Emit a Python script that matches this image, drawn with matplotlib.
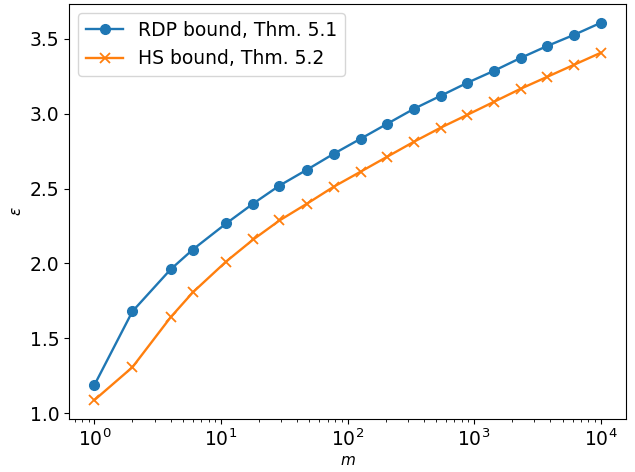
import numpy as np
import matplotlib.pyplot as plt

# number of compositions m (log-spaced, integer)
m = [1, 2, 4, 6, 11, 18, 29, 48, 78, 127, 206, 335, 545, 885, 1438, 2335, 3792, 6158, 10000]

# epsilon bounds
eps_rdp = [1.187, 1.68, 1.96, 2.093, 2.267, 2.40, 2.52, 2.627, 2.733, 2.833,
           2.933, 3.033, 3.12, 3.207, 3.287, 3.373, 3.453, 3.527, 3.607]
eps_hs = [1.087, 1.307, 1.64, 1.807, 2.013, 2.16, 2.287, 2.40, 2.513, 2.613,
          2.713, 2.813, 2.907, 2.993, 3.08, 3.167, 3.247, 3.327, 3.407]

fig, ax = plt.subplots(figsize=(6.35, 4.72), dpi=100)
fig.subplots_adjust(left=0.1087, right=0.9858, top=0.9915, bottom=0.1123)

ax.plot(m, eps_rdp, marker='o', ms=7, lw=1.7, label='RDP bound, Thm. 5.1')
ax.plot(m, eps_hs, marker='x', ms=7, lw=1.7, mew=1.3, label='HS bound, Thm. 5.2')
ax.set_xscale('log')
ax.set_xlabel('$m$', fontsize=11, labelpad=2)
ax.set_ylabel(r'$\epsilon$', fontsize=11)
ax.legend(loc='upper left', fontsize=13.5)
ax.tick_params(labelsize=13.5)

plt.savefig('out.png')
